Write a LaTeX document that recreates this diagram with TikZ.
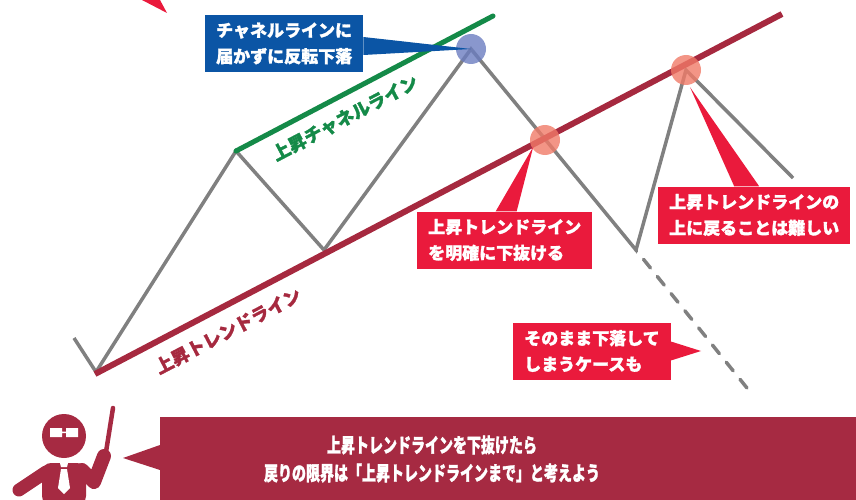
\documentclass[tikz,border=0pt]{standalone}
\usepackage{fontspec}
\newfontfamily\jp{Noto Sans CJK JP}[FakeBold=1.6]
\usetikzlibrary{positioning}

\definecolor{zigGray}{HTML}{808080}
\definecolor{trendRed}{HTML}{A6293F}
\definecolor{chGreen}{HTML}{148A48}
\definecolor{boxBlue}{HTML}{0B55A5}
\definecolor{callRed}{HTML}{EA1A3C}
\definecolor{chief}{HTML}{A62A42}
\definecolor{dotBlue}{HTML}{6B7DC0}
\definecolor{dotRed}{HTML}{F07A68}

\tikzset{
  callbox/.style={rectangle, fill=#1, text=white, align=left,
    font=\jp\bfseries\fontsize{17}{26}\selectfont,
    inner xsep=11pt, inner ysep=0pt, minimum height=57pt, anchor=west},
  lbl/.style={font=\jp\bfseries\fontsize{18}{20}\selectfont, rotate=27.7},
  touch/.style={circle, fill=#1, fill opacity=0.8, minimum size=30pt, inner sep=0pt}
}

\begin{document}
\begin{tikzpicture}[x=1pt,y=-1pt]
  \useasboundingbox (0,0) rectangle (856,500);

  % price path
  \coordinate (p0) at (74,338);
  \coordinate (p1) at (96,372);
  \coordinate (p2) at (236,151);
  \coordinate (p3) at (324,250);
  \coordinate (p4) at (471,49);
  \coordinate (p5) at (636,250);
  \coordinate (p6) at (686,70);
  \coordinate (p7) at (793,178);
  \coordinate (fall) at (751,393);
  \draw[zigGray, line width=3.5pt, line join=miter]
    (p0) -- (p1) -- (p2) -- (p3) -- (p4) -- (p5) -- (p6) -- (p7);
  \draw[zigGray, line width=3.5pt, line cap=round,
    dash pattern=on 11pt off 11pt, dash phase=-12pt] (p5) -- (fall);

  % channel and trend lines
  \coordinate (chEnd) at (493,16);
  \coordinate (trStart) at (95,374);
  \coordinate (trEnd) at (782,14);
  \draw[chGreen, line width=5pt, line cap=round] (p2) -- (chEnd);
  \draw[trendRed, line width=6pt] (trStart) -- (trEnd);

  \node[touch=dotBlue] (top) at (471,49) {};
  \node[touch=dotRed] (brk) at (545,140) {};
  \node[touch=dotRed] (back) at (686,70) {};

  \node[lbl, text=chGreen] (chlabel) at (345,118) {上昇チャネルライン};
  \node[lbl, text=trendRed] (trlabel) at (228,331) {上昇トレンドライン};

  % callouts
  \node[callbox=boxBlue] (miss) at (205,43.5) {チャネルラインに\\届かずに反転下落};
  \fill[boxBlue] ([yshift=-11.5pt]miss.east) -- (top.center) -- ([yshift=6.5pt]miss.east) -- cycle;

  \node[callbox=callRed] (breakbox) at (417,240) {上昇トレンドライン\\を明確に下抜ける};
  \fill[callRed] ([xshift=-9pt]breakbox.north) -- ([xshift=-1pt,yshift=4pt]brk.south west) -- ([xshift=12pt]breakbox.north) -- cycle;

  \node[callbox=callRed] (hardbox) at (658,215) {上昇トレンドラインの\\上に戻ることは難しい};
  \fill[callRed] ([xshift=-20pt]hardbox.north) -- ([xshift=4pt,yshift=-2pt]back.south) -- ([xshift=5pt]hardbox.north) -- cycle;

  \node[callbox=callRed] (dropbox) at (513,351) {そのまま下落して\\しまうケースも};
  \coordinate (droptip) at (701,351);
  \fill[callRed] ([yshift=-9.5pt]dropbox.east) -- (droptip) -- ([yshift=9.5pt]dropbox.east) -- cycle;

  \fill[callRed] (142,0) -- (160,0) -- (167,13) -- cycle;

  % summary banner
  \fill[chief] (160,417) rectangle (856,500);
  \coordinate (bannertip) at (123,458);
  \fill[chief] (160,445) -- (bannertip) -- (160,470) -- cycle;
  \node[text=white, align=center, font=\jp\bfseries\fontsize{20}{28}\selectfont] (summary) at (432,459)
    {\scalebox{0.7}[1]{上昇トレンドラインを下抜けたら}\\
     \scalebox{0.7}[1]{戻りの限界は「上昇トレンドラインまで」と考えよう}};

  % lecturer
  \fill[chief] (64,436) circle[radius=22pt];
  \fill[white] (50,428) rectangle (62,437) (66,428) rectangle (78,437) (62,431.5) rectangle (66,433);
  \fill[chief, rounded corners=9pt] (42,505) -- (42,463) -- (86,463) -- (86,505) -- cycle;
  \draw[chief, line width=13pt, line cap=round] (46,472) -- (19,490);
  \draw[chief, line width=14pt, line cap=round, line join=round] (82,470) -- (94,482) -- (104,456);
  \draw[chief, line width=4.5pt, line cap=round] (106,452) -- (113,408);
  \fill[white] (60,463) -- (68,463) -- (67,467) -- (61,467) -- cycle;
  \fill[white] (61,469) -- (67,469) -- (70,488) -- (64,494) -- (58,488) -- cycle;
\end{tikzpicture}
\end{document}
